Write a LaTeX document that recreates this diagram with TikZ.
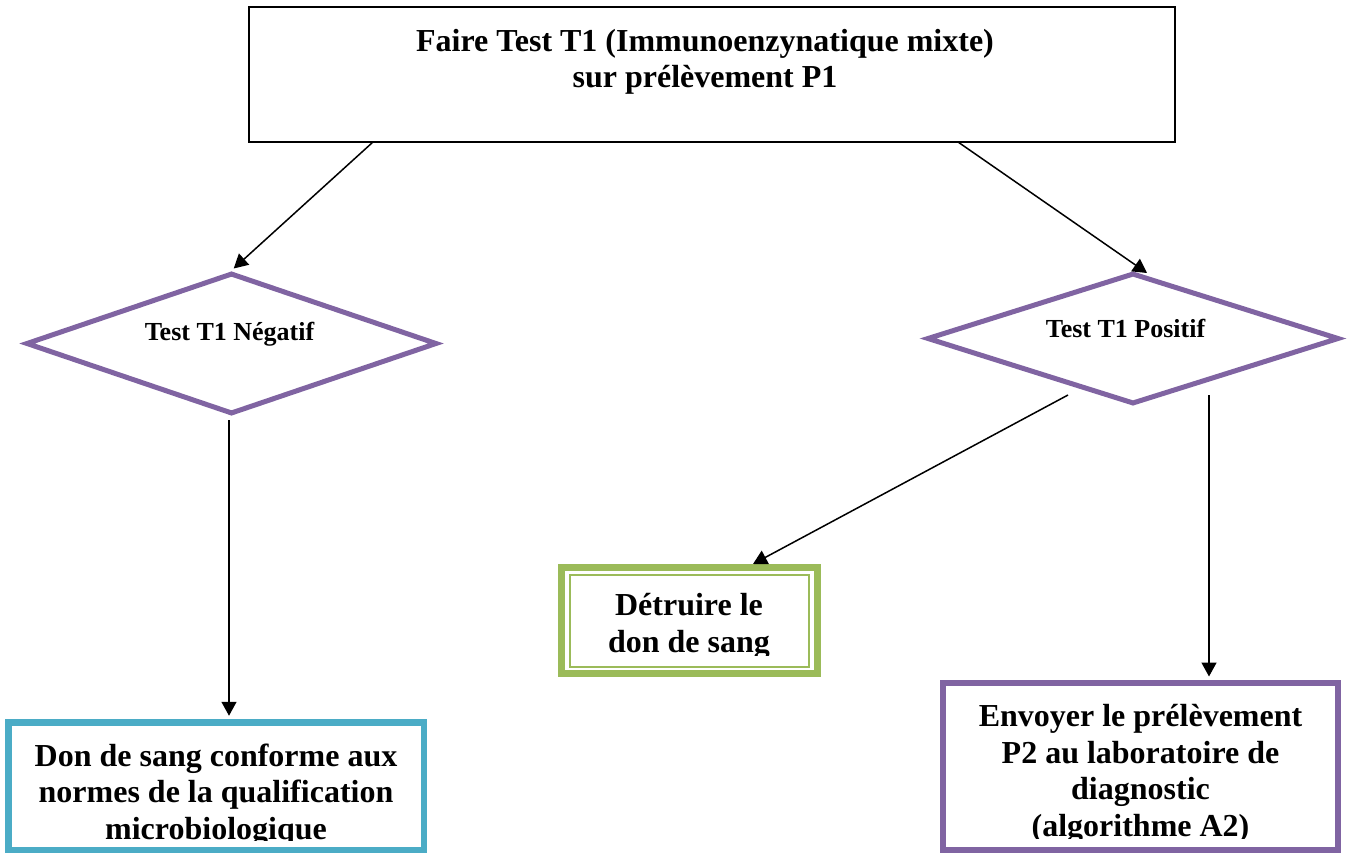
\documentclass[tikz,border=0pt]{standalone}
\usepackage{fontspec}
\setmainfont{Liberation Serif}
\usetikzlibrary{arrows.meta,shapes.geometric}
\definecolor{vpurple}{HTML}{8064A2}
\definecolor{vcyan}{HTML}{4BACC6}
\definecolor{vgreen}{HTML}{9BBB59}
\begin{document}
\begin{tikzpicture}[x=1pt,y=-1pt,
  bigtxt/.style={font=\fontsize{32}{36.5}\selectfont\bfseries, align=center, inner sep=0},
  smalltxt/.style={font=\fontsize{26}{30}\selectfont\bfseries, inner sep=0},
  dia/.style={diamond, draw=vpurple, line width=5pt, inner sep=0},
  boxnode/.style={draw, inner sep=0},
  conn/.style={line width=1.5pt, -{Triangle[length=14pt,width=15pt]}}]
\useasboundingbox (0,0) rectangle (1351,853);

% top box
\node[boxnode, draw=black, line width=1.6pt, minimum width=926pt, minimum height=135pt] (top) at (712,74.5) {};
\node[bigtxt] (toptxt) at (705,62) {\strut Faire Test T1 (Immunoenzynatique mixte)\\ \strut sur prélèvement P1};

% diamonds
\node[dia, minimum width=411pt, minimum height=141pt] (ldia) at (231.5,343.5) {};
\node[smalltxt, anchor=base] (ltxt) at (229.5,340) {Test T1 Négatif};
\node[dia, minimum width=412pt, minimum height=131pt] (rdia) at (1133,338.5) {};
\node[smalltxt, anchor=base] (rtxt) at (1125.5,337) {Test T1 Positif};

% green box (double frame)
\node[boxnode, draw=vgreen, line width=7pt, minimum width=256pt, minimum height=106pt] (gbox) at (689,620.5) {};
\node[boxnode, draw=vgreen, line width=2pt, minimum width=239pt, minimum height=92pt] (gboxin) at (689.5,621) {};
\begin{scope}
  \clip (570,575) rectangle (809,655);
  \node[bigtxt] (gtxt) at (689,626.7) {\strut Détruire le\\ \strut don de sang};
\end{scope}

% bottom-left box
\node[boxnode, draw=vcyan, line width=6.5pt, minimum width=415.5pt, minimum height=127.5pt] (lbox) at (216.25,786.25) {};
\begin{scope}
  \clip (12,726) rectangle (421,840);
  \node[bigtxt] (ltxtb) at (216,795.2) {\strut Don de sang conforme aux\\ \strut normes de la qualification\\ \strut microbiologique};
\end{scope}

% right box
\node[boxnode, draw=vpurple, line width=6pt, minimum width=395pt, minimum height=167pt] (rbox) at (1140.5,766.5) {};
\begin{scope}
  \clip (946,686) rectangle (1335,838.5);
  \node[bigtxt] (rtxtb) at (1140.5,774) {\strut Envoyer le prélèvement\\ \strut P2 au laboratoire de\\ \strut diagnostic\\ \strut (algorithme A2)};
\end{scope}

% connectors
\coordinate (s1) at (373,142);
\coordinate (s2) at (958,142);
\coordinate (e2) at (1147,273);
\coordinate (s3) at (229,420);
\coordinate (s4) at (1068,395);
\coordinate (e4) at (753,564);
\coordinate (s5) at (1209,395);

\draw[conn, shorten >=3pt] (s1) -- (ldia.north);
\draw[conn] (s2) -- (e2);
\draw[conn, shorten >=3.5pt] (s3) -- (s3 |- lbox.north);
\draw[conn] (s4) -- (e4);
\draw[conn, shorten >=3.5pt] (s5) -- (s5 |- rbox.north);
\end{tikzpicture}
\end{document}
